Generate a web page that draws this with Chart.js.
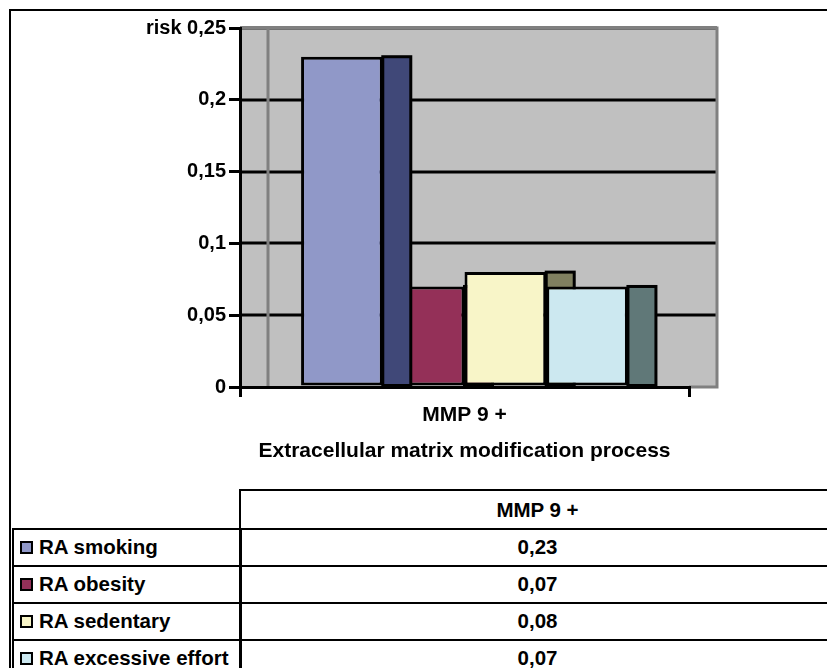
<!DOCTYPE html>
<html>
<head>
<meta charset="utf-8">
<script src="https://cdn.jsdelivr.net/npm/chart.js@4/dist/chart.umd.min.js"></script>
<style>
  html, body { margin: 0; padding: 0; background: #fff; }
  body { width: 827px; height: 668px; overflow: hidden; position: relative;
         font-family: 'Liberation Sans', Arial, sans-serif; }
  #frame { position: absolute; left: 9px; top: 9px; width: 840px; height: 680px;
           border-left: 2px solid #000; border-top: 2px solid #000; box-sizing: border-box; }
  #c { position: absolute; left: 0; top: 0; }
  .cell { position: absolute; box-sizing: border-box; border: 2.5px solid #000;
          font-weight: bold; font-size: 20.5px; color: #000; display: flex; align-items: center; }
  .val { justify-content: center; }
  .lab { padding-left: 6px; white-space: nowrap; }
  .key { display: inline-block; width: 13px; height: 13px; box-sizing: border-box;
         border: 2px solid #000; margin-right: 6px; }
</style>
</head>
<body>
<div id="frame"></div>
<canvas id="c" width="827" height="480"></canvas>
<div id="table"></div>
<script>
// ---- data ----
const categories = ['MMP 9 +'];
const seriesNames = ['RA smoking', 'RA obesity', 'RA sedentary', 'RA excessive effort'];
const raSmoking = [0.23];
const raObesity = [0.07];
const raSedentary = [0.08];
const raExcessiveEffort = [0.07];
const yTickValues = [0, 0.05, 0.1, 0.15, 0.2, 0.25];
const yTickLabels = ['0', '0,05', '0,1', '0,15', '0,2', 'risk 0,25'];
const xAxisTitle = 'Extracellular matrix modification process';

// ---- styles ----
const frontColors = ['#9098C8', '#943058', '#F8F5C8', '#CCE8F0'];
const sideColors = ['#404878', '#602040', '#808060', '#607878'];
const sideOnTop = [true, false, false, false];
const DEPTH = 28;
const FONT = "'Liberation Sans', Arial, sans-serif";

const seriesValues = [raSmoking, raObesity, raSedentary, raExcessiveEffort];

const bar3d = {
  id: 'bar3d',
  beforeDraw(chart) {
    const { ctx, chartArea: a, scales } = chart;
    const y = scales.y;
    ctx.save();
    // back wall
    ctx.fillStyle = '#C0C0C0';
    ctx.fillRect(a.left, a.top, a.right - a.left + DEPTH, a.bottom - a.top);
    // gridlines
    ctx.strokeStyle = '#000';
    ctx.lineWidth = 3;
    yTickValues.forEach(v => {
      if (v === 0) return;
      const py = Math.round(y.getPixelForValue(v));
      ctx.beginPath();
      ctx.moveTo(a.left, py);
      ctx.lineTo(a.right + DEPTH, py);
      ctx.stroke();
    });
    // wall edges
    ctx.strokeStyle = '#808080';
    ctx.lineWidth = 3;
    ctx.beginPath();
    ctx.moveTo(a.left, a.top);
    ctx.lineTo(a.right + DEPTH, a.top);
    ctx.lineTo(a.right + DEPTH, a.bottom);
    ctx.lineTo(a.right, a.bottom);
    ctx.moveTo(a.left + DEPTH, a.top);
    ctx.lineTo(a.left + DEPTH, a.bottom);
    ctx.stroke();
    ctx.restore();
  },
  drawSide(chart, i) {
    const meta = chart.getDatasetMeta(i);
    const ctx = chart.ctx;
    meta.data.forEach(el => {
      const p = el.getProps(['x', 'y', 'base', 'width'], true);
      const x0 = p.x + p.width / 2;
      ctx.save();
      ctx.fillStyle = sideColors[i];
      ctx.fillRect(x0, p.y, DEPTH, p.base - p.y);
      ctx.strokeStyle = '#000';
      ctx.lineWidth = 3;
      ctx.strokeRect(x0, p.y, DEPTH, p.base - p.y);
      ctx.restore();
    });
  },
  beforeDatasetsDraw(chart) {
    chart.data.datasets.forEach((d, i) => { if (!sideOnTop[i]) this.drawSide(chart, i); });
  },
  afterDatasetsDraw(chart) {
    chart.data.datasets.forEach((d, i) => { if (sideOnTop[i]) this.drawSide(chart, i); });
  }
};

const chart = new Chart(document.getElementById('c'), {
  type: 'bar',
  data: {
    labels: categories,
    datasets: seriesNames.map((name, i) => ({
      label: name,
      data: seriesValues[i],
      backgroundColor: frontColors[i],
      borderColor: '#000',
      borderWidth: 3,
      borderSkipped: false,
      barPercentage: 1,
      categoryPercentage: 0.728
    }))
  },
  options: {
    responsive: false,
    animation: false,
    layout: { padding: { left: 0, right: 138, top: 28, bottom: 0 } },
    plugins: { legend: { display: false }, tooltip: { enabled: false }, title: { display: false } },
    scales: {
      x: {
        type: 'category',
        offset: true,
        grid: { display: true, drawOnChartArea: false, drawTicks: true, tickLength: 10,
                color: '#000', lineWidth: 3, offset: true },
        border: { display: true, color: '#000', width: 3 },
        ticks: { color: '#000', font: { family: FONT, size: 21, weight: 'bold' }, padding: 6 },
        title: { display: true, text: xAxisTitle, color: '#000',
                 font: { family: FONT, size: 21, weight: 'bold' }, padding: { top: 4, bottom: 16 } },
        afterFit(scale) { scale.height = 93; }
      },
      y: {
        min: 0, max: 0.25,
        afterBuildTicks(scale) { scale.ticks = yTickValues.map(v => ({ value: v })); },
        grid: { display: true, drawOnChartArea: false, drawTicks: true, tickLength: 11,
                color: '#000', lineWidth: 3 },
        border: { display: true, color: '#000', width: 3 },
        ticks: { color: '#000', font: { family: FONT, size: 20, weight: 'bold' }, padding: 3,
                 callback: (v, idx) => yTickLabels[idx] },
        afterFit(scale) { scale.width = 240; }
      }
    }
  },
  plugins: [bar3d]
});

// ---- data table ----
const table = document.getElementById('table');
function cell(cls, x, y, w, h, html) {
  const d = document.createElement('div');
  d.className = 'cell ' + cls;
  d.style.left = x + 'px'; d.style.top = y + 'px';
  d.style.width = w + 'px'; d.style.height = h + 'px';
  d.innerHTML = html;
  table.appendChild(d);
  return d;
}
const fmt = v => String(v).replace('.', ',');
const colL = 12, colV = 239, colR = 836, top0 = 489, headH = 41, rowH = 39.5;
cell('val', colV, top0, colR - colV, headH, '<span>' + categories[0] + '</span>');
seriesNames.forEach((name, i) => {
  const ty = top0 + headH - 2.5 + i * (rowH - 2.5);
  cell('lab', colL, ty, colV - colL + 2.5, rowH,
       '<span class="key" style="background:' + frontColors[i] + '"></span><span class="txt">' + name + '</span>');
  cell('val', colV, ty, colR - colV, rowH, '<span>' + fmt(seriesValues[i][0]) + '</span>');
});
</script>
</body>
</html>
